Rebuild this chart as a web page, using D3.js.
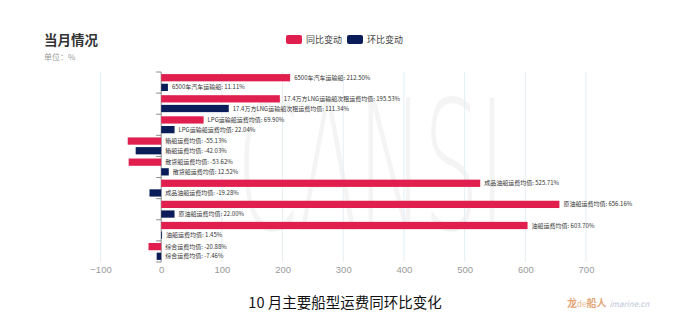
<!DOCTYPE html>
<html>
<head>
<meta charset="utf-8">
<script src="https://cdn.jsdelivr.net/npm/d3@7"></script>
<style>
  html, body { margin: 0; padding: 0; background: #fff; }
  svg { display: block; font-family: "Noto Sans CJK SC", "Noto Sans", sans-serif; }
</style>
</head>
<body>
<svg id="chart" width="673" height="328"></svg>
<script>
// Ship types (top to bottom)
const categories = [
  "6500车汽车运输船",
  "17.4万方LNG运输船次租运费均值",
  "LPG运输船运费均值",
  "箱船运费均值",
  "散货船运费均值",
  "成品油船运费均值",
  "原油船运费均值",
  "油船运费均值",
  "综合运费均值"
];
// Year-on-year change, %
const yoyValues = [212.50, 195.53, 69.90, -55.13, -53.62, 525.71, 656.16, 603.70, -20.88];
// Month-on-month change, %
const momValues = [11.11, 111.34, 22.04, -42.03, 12.52, -19.28, 22.00, 1.45, -7.46];
const seriesNames = ["同比变动", "环比变动"];
const xTicks = [-100, 0, 100, 200, 300, 400, 500, 600, 700];

const colors = ["#E11F4E", "#0B1D58"];
const svg = d3.select("#chart");

const x = d3.scaleLinear().domain([-100, 700]).range([100.5, 586]);
const y = d3.scaleBand().domain(categories).range([72, 262]).paddingInner(0.06).paddingOuter(0.03);
const sub = d3.scaleBand().domain([0, 1]).range([0, y.bandwidth()]).paddingInner(0.25).paddingOuter(0.15);

// Background watermark
svg.append("text")
  .attr("x", 237).attr("y", 229)
  .attr("font-family", "DejaVu Sans, sans-serif")
  .attr("font-weight", 200)
  .attr("font-size", 180)
  .attr("textLength", 268)
  .attr("lengthAdjust", "spacingAndGlyphs")
  .attr("fill", "#f4f4f4")
  .text("CANSI");

// Vertical grid lines
svg.append("g").selectAll("line")
  .data(xTicks.filter(d => d !== 0))
  .join("line")
  .attr("x1", d => x(d)).attr("x2", d => x(d))
  .attr("y1", 72).attr("y2", 262)
  .attr("stroke", "#e6eef3").attr("stroke-width", 1);

// X axis tick labels
const xAxis = d3.axisBottom(x).tickValues(xTicks).tickSize(0).tickPadding(0);
const gx = svg.append("g").attr("transform", "translate(0,266)").call(xAxis);
gx.select(".domain").remove();
gx.selectAll("text")
  .attr("fill", "#9a9a9a")
  .attr("font-size", 9.5)
  .attr("font-family", "Liberation Sans, Arial, sans-serif");

// Zero axis with category ticks
const gy = svg.append("g").attr("transform", `translate(${x(0)},0)`);
gy.append("line").attr("y1", 72).attr("y2", 262).attr("stroke", "#8a8a8a");
gy.selectAll("line.tk")
  .data(d3.range(categories.length + 1))
  .join("line").attr("class", "tk")
  .attr("x1", -5).attr("x2", 0)
  .attr("y1", i => 72 + i * (190 / categories.length))
  .attr("y2", i => 72 + i * (190 / categories.length))
  .attr("stroke", "#8a8a8a");

// Bars and value labels
const series = [yoyValues, momValues];
series.forEach((vals, s) => {
  const rows = categories.map((c, i) => ({ c, v: vals[i] }));
  const g = svg.append("g");
  g.selectAll("rect")
    .data(rows)
    .join("rect")
    .attr("x", d => x(Math.min(0, d.v)))
    .attr("width", d => Math.abs(x(d.v) - x(0)))
    .attr("y", d => y(d.c) + sub(s))
    .attr("height", sub.bandwidth())
    .attr("fill", colors[s]);
  g.selectAll("text")
    .data(rows)
    .join("text")
    .attr("x", d => Math.max(x(d.v), x(0)) + 4)
    .attr("y", d => y(d.c) + sub(s) + sub.bandwidth() / 2)
    .attr("dy", "0.35em")
    .attr("font-size", 6)
    .attr("fill", "#333")
    .text(d => `${d.c}: ${d.v.toFixed(2)}%`);
});

// Header
svg.append("text").attr("x", 44).attr("y", 45)
  .attr("font-size", 13.5).attr("font-weight", "bold").attr("fill", "#333")
  .text("当月情况");
svg.append("text").attr("x", 44).attr("y", 60)
  .attr("font-size", 8).attr("fill", "#999")
  .text("单位：%");

// Legend
const legend = svg.append("g").attr("transform", "translate(286,35)");
seriesNames.forEach((n, i) => {
  const lg = legend.append("g").attr("transform", `translate(${i * 61},0)`);
  lg.append("rect").attr("width", 16).attr("height", 9).attr("rx", 2).attr("fill", colors[i]);
  lg.append("text").attr("x", 20).attr("y", 4.5).attr("dy", "0.35em")
    .attr("font-size", 9).attr("fill", "#444").text(n);
});

// Caption
svg.append("text").attr("x", 345).attr("y", 308)
  .attr("text-anchor", "middle").attr("font-size", 14.5).attr("fill", "#111")
  .text("10 月主要船型运费同环比变化");

// Site mark
const mark = svg.append("text").attr("x", 567).attr("y", 307).attr("font-size", 10);
mark.append("tspan").attr("fill", "#e3a77a").attr("font-weight", "bold").text("龙");
mark.append("tspan").attr("fill", "#f0b98a").attr("font-size", 8).text("de");
mark.append("tspan").attr("fill", "#e3a77a").attr("font-weight", "bold").text("船人");
mark.append("tspan").attr("fill", "#bcc6d6").attr("font-size", 8).attr("font-style", "italic")
  .attr("dx", 3).text("imarine.cn");
</script>
</body>
</html>
